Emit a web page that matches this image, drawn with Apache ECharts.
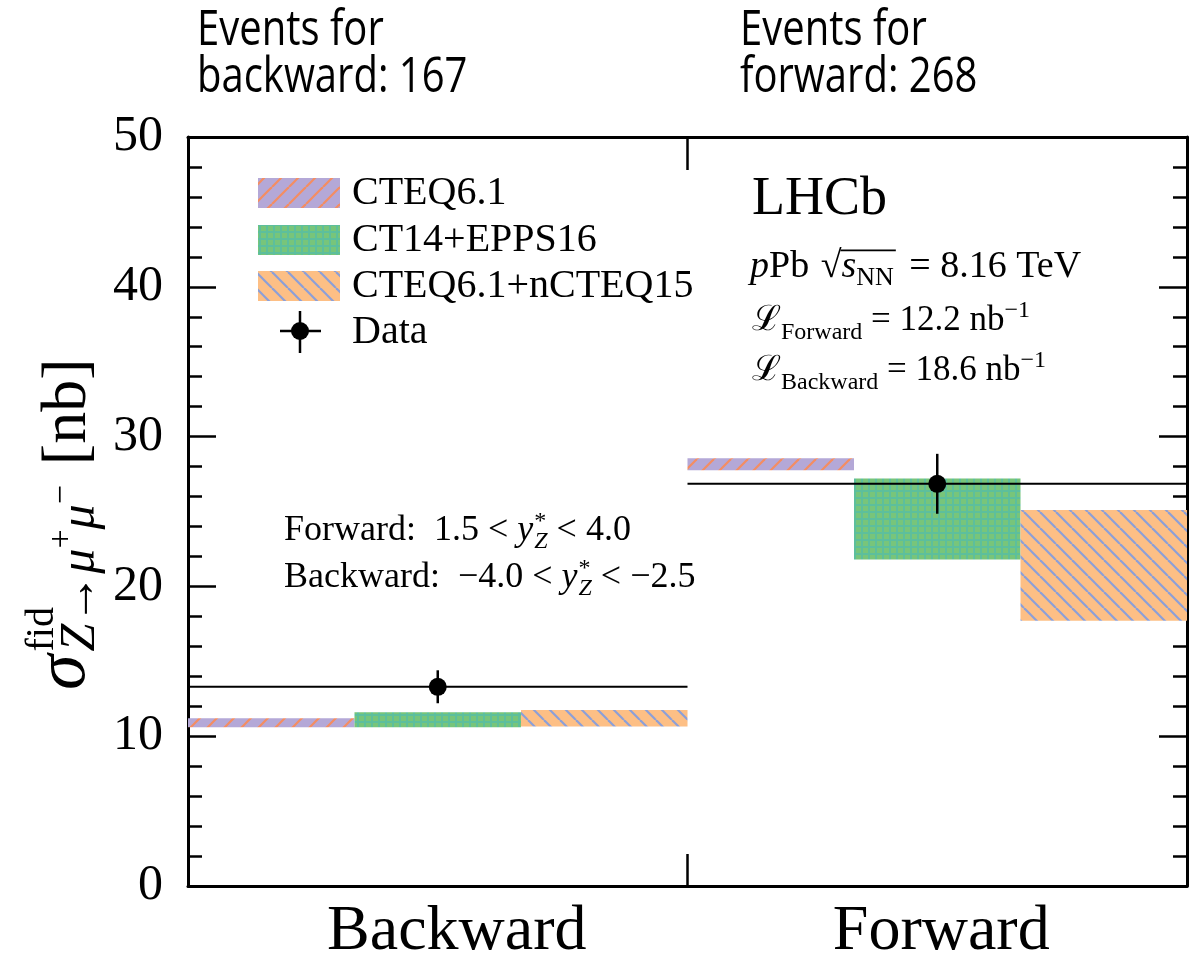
<!DOCTYPE html>
<html><head><meta charset="utf-8">
<script src="https://cdn.jsdelivr.net/npm/echarts@6/dist/echarts.min.js"></script>
<style>html,body{margin:0;padding:0;background:#fff}#c{width:1197px;height:970px}</style>
</head><body><div id="c"></div>
<script>
// ---- data ----
const categories = ['Backward', 'Forward'];
const cteq61Low = [10.6, 27.75];
const cteq61High = [11.2, 28.55];
const ct14Low = [10.6, 21.8];
const ct14High = [11.6, 27.2];
const ncteqLow = [10.65, 17.7];
const ncteqHigh = [11.75, 25.1];
const dataValue = [13.3, 26.85];
const dataError = [1.1, 2.0];
const yTicks = [0, 10, 20, 30, 40, 50];
const modelNames = ['CTEQ6.1', 'CT14+EPPS16', 'CTEQ6.1+nCTEQ15'];
const eventsText = ['Events for\nbackward: 167', 'Events for\nforward: 268'];

const SERIF = '"Liberation Serif", "DejaVu Serif", serif';
const SANS = '"Open Sans", sans-serif';

// ---- patterns ----
function hatch(bg, fg, p, dir, lw) {
  const c = document.createElement('canvas'); c.width = p; c.height = p;
  const g = c.getContext('2d'); g.fillStyle = bg; g.fillRect(0, 0, p, p);
  g.strokeStyle = fg; g.lineWidth = lw;
  for (const k of [-p, 0, p]) {
    g.beginPath();
    if (dir === '/') { g.moveTo(k, p); g.lineTo(k + p, 0); }
    else { g.moveTo(k, 0); g.lineTo(k + p, p); }
    g.stroke();
  }
  return { image: c, repeat: 'repeat' };
}
function gridPat(bg, fg, p, lw) {
  const c = document.createElement('canvas'); c.width = p; c.height = p;
  const g = c.getContext('2d'); g.fillStyle = bg; g.fillRect(0, 0, p, p);
  g.fillStyle = fg; g.fillRect(0, 0, lw, p); g.fillRect(0, 0, p, lw);
  return { image: c, repeat: 'repeat' };
}
const patterns = [
  hatch('#b4a8d7', '#f48d62', 17, '/', 2.2),
  gridPat('#78c57a', '#5dbf9c', 7, 2),
  hatch('#fdbf85', '#8c9fd8', 16, '\\', 2.2)
];

// ---- text helpers ----
const mctx = document.createElement('canvas').getContext('2d');
function fontStr(f, it, fam) { return (it ? 'italic ' : '') + f + 'px ' + fam; }
function measure(t, f, it, fam) { mctx.font = fontStr(f, it, fam); return mctx.measureText(t).width; }
function midOff(fam) { return fam === SANS ? 0.39 : 0.34; }
function txt(t, x, base, f, it, fam) {
  fam = fam || SERIF;
  return { type: 'text', x: x, y: base - midOff(fam) * f,
    style: { text: t, font: fontStr(f, it, fam), fill: '#000', align: 'left', textAlign: 'left', verticalAlign: 'middle', textVerticalAlign: 'middle' } };
}
// parts: [text, size, italic, dy]
function line(parts, x0, base) {
  const out = []; let x = x0;
  for (const p of parts) {
    out.push(txt(p[0], x, base + (p[3] || 0), p[1], p[2]));
    x += measure(p[0], p[1], p[2], SERIF);
  }
  return { children: out, end: x };
}

const chart = echarts.init(document.getElementById('c'));

function bandSeries(k, lows, highs, name) {
  return {
    type: 'custom', name: name, xAxisIndex: 0, yAxisIndex: 0,
    data: categories.map((c, i) => [i, lows[i], highs[i]]),
    encode: { x: 0, y: [1, 2] },
    renderItem: function (params, api) {
      const c = api.value(0);
      const p1 = api.coord([c, api.value(1)]);
      const p2 = api.coord([c, api.value(2)]);
      const bw = api.size([1, 0])[0];
      const left = p1[0] - bw / 2 + k * bw / 3;
      return { type: 'rect', shape: { x: left, y: p2[1], width: bw / 3, height: p1[1] - p2[1] },
        style: { fill: patterns[k] } };
    }
  };
}

const dataSeries = {
  type: 'custom', name: 'Data', xAxisIndex: 0, yAxisIndex: 0,
  data: categories.map((c, i) => [i, dataValue[i], dataValue[i] - dataError[i], dataValue[i] + dataError[i]]),
  encode: { x: 0, y: [1, 2, 3] },
  z: 10,
  renderItem: function (params, api) {
    const c = api.value(0);
    const pv = api.coord([c, api.value(1)]);
    const plo = api.coord([c, api.value(2)]);
    const phi = api.coord([c, api.value(3)]);
    const bw = api.size([1, 0])[0];
    return { type: 'group', children: [
      { type: 'line', shape: { x1: pv[0] - bw / 2, y1: pv[1], x2: pv[0] + bw / 2, y2: pv[1] }, style: { stroke: '#000', lineWidth: 2 } },
      { type: 'line', shape: { x1: pv[0], y1: plo[1], x2: pv[0], y2: phi[1] }, style: { stroke: '#000', lineWidth: 2.5 } },
      { type: 'circle', shape: { cx: pv[0], cy: pv[1], r: 9 }, style: { fill: '#000' } }
    ] };
  }
};

// ---- graphics: annotations ----
const g = [];
// events texts
[[197, eventsText[0]], [740, eventsText[1]]].forEach(([x, t]) => {
  t.split('\n').forEach((s, j) => {
    g.push({ type: 'text', x: x, y: 50 + j * 47, scaleY: 1.25,
      style: { text: s, x: 0, y: -0.39 * 40, font: '40px ' + SANS, fill: '#000', align: 'left', textAlign: 'left', verticalAlign: 'middle', textVerticalAlign: 'middle' } });
  });
});
// legend
const legRows = [207, 254, 300];
modelNames.forEach((n, i) => {
  g.push({ type: 'rect', shape: { x: 258, y: legRows[i] - 29, width: 82, height: 30 }, style: { fill: patterns[i] } });
  g.push(txt(n, 352, legRows[i], 40, false));
});
g.push({ type: 'line', shape: { x1: 280, y1: 331, x2: 321, y2: 331 }, style: { stroke: '#000', lineWidth: 2.5 } });
g.push({ type: 'line', shape: { x1: 300, y1: 311, x2: 300, y2: 353 }, style: { stroke: '#000', lineWidth: 2.5 } });
g.push({ type: 'circle', shape: { cx: 300, cy: 331, r: 9 }, style: { fill: '#000' } });
g.push(txt('Data', 352, 346, 40, false));

// LHCb block
g.push(txt('LHCb', 752, 218, 54, false));
(function () {
  const f = 38, s = 26;
  let l = line([['p', f, true], ['Pb ', f, false]], 750, 280);
  g.push(...l.children);
  const sq = txt('\u221A', l.end + 2, 280, f, false); g.push(sq);
  const sqW = measure('\u221A', f, false, SERIF) + 2;
  let l2 = line([['s', f, true], ['NN', s, false, 7]], l.end + sqW, 280);
  g.push(...l2.children);
  g.push({ type: 'line', shape: { x1: l.end + sqW - 1, y1: 280 - 0.78 * f, x2: l2.end + 2, y2: 280 - 0.78 * f }, style: { stroke: '#000', lineWidth: 1.6 } });
  let l3 = line([[' = 8.16 TeV', f, false]], l2.end + 6, 280);
  g.push(...l3.children);
  const fl = 35, sl = 24;
  [['Forward', '12.2', 333], ['Backward', '18.6', 383]].forEach(([sub, v, b]) => {
    const q = line([['\u2112', fl, false], [sub, sl, false, 8], [' = ' + v + ' nb', fl, false], ['\u22121', sl, false, -14]], 752, b);
    g.push(...q.children);
  });
})();

// rapidity ranges
(function () {
  const f = 36, s = 24;
  const a = line([['Forward:  1.5 < ', f, false], ['y', f, true]], 284, 543);
  g.push(...a.children);
  g.push(txt('*', a.end + 1, 543 - 13, s, false));
  const a2 = line([['Z', s, true, 7], [' < 4.0', f, false]], a.end + 1, 543);
  g.push(...a2.children);
  const b = line([['Backward:  \u22124.0 < ', f, false], ['y', f, true]], 284, 590);
  g.push(...b.children);
  g.push(txt('*', b.end + 1, 590 - 13, s, false));
  const b2 = line([['Z', s, true, 7], [' < \u22122.5', f, false]], b.end + 1, 590);
  g.push(...b2.children);
})();

// y-axis title (rotated)
(function () {
  const ch = [];
  const fs = 72, fsub = 50, fsup = 34;
  ch.push(txt('\u03C3', 0, 0, fs, true));
  const x1 = measure('\u03C3', fs, true, SERIF) + 3;
  ch.push(txt('fid', x1, -34, 40, false));
  const sub = line([['Z', fsub, true, 8], ['\u2192', fsub, false, 8], ['\u03BC', fsub, true, 8], ['+', fsup, false, -16], ['\u03BC', fsub, true, 8], ['\u2212', fsup, false, -16]], x1, 0);
  ch.push(...sub.children);
  ch.push(txt('[nb]', sub.end + 20, 0, 64, false));
  g.push({ type: 'group', x: 90, y: 690, rotation: Math.PI / 2, children: ch });
})();

const axisCommon = {
  axisLine: { show: true, onZero: false, lineStyle: { color: '#000', width: 3 } },
  splitLine: { show: false }
};

chart.setOption({
  animation: false,
  backgroundColor: '#fff',
  grid: { left: 188, right: 10, top: 137, bottom: 84, containLabel: false },
  xAxis: [
    Object.assign({ type: 'category', data: categories, position: 'bottom',
      axisTick: { show: true, inside: true, length: 32, lineStyle: { color: '#000', width: 2.5 } },
      axisLabel: { show: true, margin: 14, color: '#000', fontFamily: SERIF, fontSize: 64,
        formatter: v => v === 'Backward' ? '{b|Backward}' : '{f|Forward}',
        rich: { b: { fontFamily: SERIF, fontSize: 64, color: '#000', padding: [0, 0, 0, 38] },
                f: { fontFamily: SERIF, fontSize: 64, color: '#000', padding: [0, 0, 0, 8] } } } }, axisCommon),
    Object.assign({ type: 'category', data: categories, position: 'top',
      axisTick: { show: true, inside: true, length: 33, lineStyle: { color: '#000', width: 2.5 } },
      axisLabel: { show: false } }, axisCommon)
  ],
  yAxis: [
    Object.assign({ type: 'value', min: yTicks[0], max: yTicks[yTicks.length - 1], interval: 10, position: 'left',
      axisTick: { show: true, inside: true, length: 28, lineStyle: { color: '#000', width: 2.5 } },
      minorTick: { show: true, splitNumber: 5, length: 14, lineStyle: { color: '#000', width: 2.5 } },
      axisLabel: { show: true, margin: 25, color: '#000', fontFamily: SERIF, fontSize: 50 } }, axisCommon),
    Object.assign({ type: 'value', min: yTicks[0], max: yTicks[yTicks.length - 1], interval: 10, position: 'right',
      axisTick: { show: true, inside: true, length: 28, lineStyle: { color: '#000', width: 2.5 } },
      minorTick: { show: true, splitNumber: 5, length: 14, lineStyle: { color: '#000', width: 2.5 } },
      axisLabel: { show: false } }, axisCommon)
  ],
  series: [
    bandSeries(0, cteq61Low, cteq61High, modelNames[0]),
    bandSeries(1, ct14Low, ct14High, modelNames[1]),
    bandSeries(2, ncteqLow, ncteqHigh, modelNames[2]),
    dataSeries
  ],
  graphic: { elements: g }
});
</script></body></html>
